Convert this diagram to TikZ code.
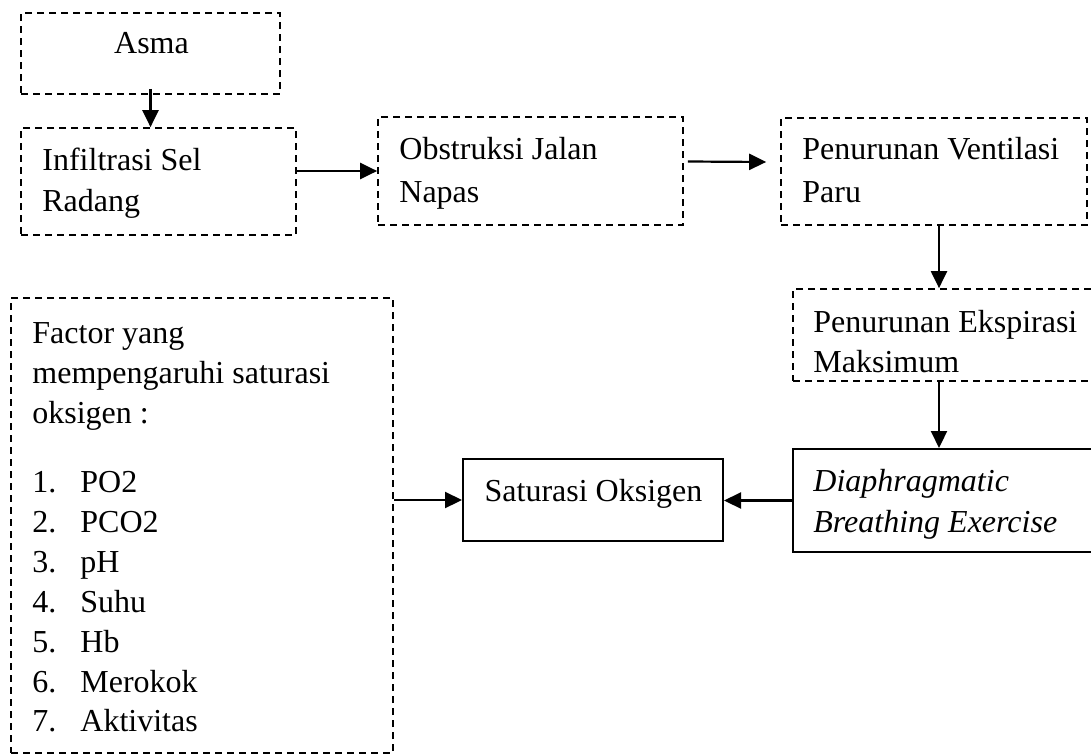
\documentclass[tikz,border=0pt]{standalone}
\usepackage{fontspec}
\setmainfont{Liberation Serif}
\usetikzlibrary{arrows.meta}
\tikzset{
  dbox/.style={draw=black, dash pattern=on 3.5pt off 2.5pt, line width=0.85pt, inner sep=0pt},
  sbox/.style={draw=black, line width=1pt, inner sep=0pt},
  txt/.style={anchor=base west, inner sep=0pt, font=\fontsize{16}{20}\selectfont},
  ctxt/.style={anchor=base, inner sep=0pt, font=\fontsize{16}{20}\selectfont},
  arr/.style={draw=black, line width=1.1pt, -{Triangle[length=8.5pt,width=8pt]}}
}
\newcommand{\itm}[2]{\makebox[24pt][l]{#1}#2}
\begin{document}
\begin{tikzpicture}[x=0.5pt,y=-0.5pt]
\useasboundingbox (0,0) rectangle (1091,755);
% boxes
\node[dbox, minimum width=129.5pt, minimum height=40.5pt] (asma) at (150.5,53.5) {};
\node[dbox, minimum width=137.5pt, minimum height=53.5pt] (infil) at (158.5,181.5) {};
\node[dbox, minimum width=152.5pt, minimum height=54pt] (obst) at (530.5,171) {};
\node[dbox, minimum width=153pt, minimum height=53.5pt] (vent) at (934,171.5) {};
\node[dbox, minimum width=153.5pt, minimum height=46pt] (eksp) at (946.5,335) {};
\node[sbox, minimum width=153.5pt, minimum height=51.5pt] (diaph) at (946.5,500.5) {};
\node[sbox, minimum width=130pt, minimum height=41pt] (sat) at (593,500) {};
\node[dbox, minimum width=191pt, minimum height=227.5pt] (fact) at (202,525.5) {};
% texts
\node[ctxt] (tasma) at (151.5,54) {Asma};
\node[txt] (tinfil1) at (42,170) {Infiltrasi Sel};
\node[txt] (tinfil2) at (42,211) {Radang};
\node[txt] (tobst1) at (399,159) {Obstruksi Jalan};
\node[txt] (tobst2) at (399,202) {Napas};
\node[txt] (tvent1) at (802,159) {Penurunan Ventilasi};
\node[txt] (tvent2) at (802,202) {Paru};
\node[txt] (teksp1) at (813,332) {Penurunan Ekspirasi};
\node[txt] (teksp2) at (813,372) {Maksimum};
\node[txt] (tdiaph1) at (813,491) {\itshape Diaphragmatic};
\node[txt] (tdiaph2) at (813,532) {\itshape Breathing Exercise};
\node[ctxt] (tsat) at (593.5,501) {Saturasi Oksigen};
\node[txt] (tf1) at (32,343) {Factor yang};
\node[txt] (tf2) at (32,383) {mempengaruhi saturasi};
\node[txt] (tf3) at (32,423) {oksigen :};
\node[txt] (tl1) at (32,492) {\itm{1.}{PO2}};
\node[txt] (tl2) at (32,532) {\itm{2.}{PCO2}};
\node[txt] (tl3) at (32,572) {\itm{3.}{pH}};
\node[txt] (tl4) at (32,612) {\itm{4.}{Suhu}};
\node[txt] (tl5) at (32,652) {\itm{5.}{Hb}};
\node[txt] (tl6) at (32,692) {\itm{6.}{Merokok}};
\node[txt] (tl7) at (32,731) {\itm{7.}{Aktivitas}};
% connectors
\draw[arr] ([yshift=3pt]asma.south) -- (asma.south |- infil.north);
\draw[arr] (obst.west -| infil.east) -- (obst.west);
\draw[arr] ([yshift=4.75pt,xshift=2pt]obst.east) -- ([yshift=4.75pt,xshift=-7pt]vent.west);
\draw[arr] ([xshift=2.5pt]vent.south) -- ([xshift=2.5pt]vent.south |- eksp.north);
\draw[arr] ([xshift=2.5pt]vent.south |- eksp.south) -- ([xshift=2.5pt]vent.south |- diaph.north);
\draw[arr] (diaph.west) -- (diaph.west -| sat.east);
\draw[arr] (sat.west -| fact.east) -- (sat.west);
\end{tikzpicture}
\end{document}
